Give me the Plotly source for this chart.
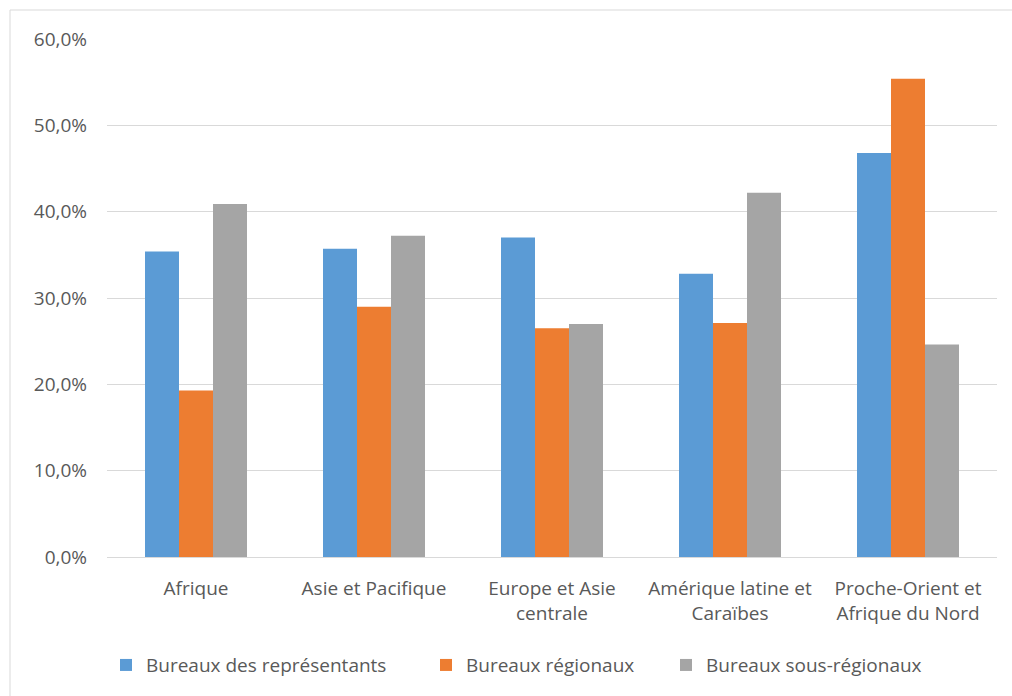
import plotly.graph_objects as go

categories = [
    "Afrique",
    "Asie et Pacifique",
    "Europe et Asie<br>centrale",
    "Amérique latine et<br>Caraïbes",
    "Proche-Orient et<br>Afrique du Nord",
]
series_names = ["Bureaux des représentants", "Bureaux régionaux", "Bureaux sous-régionaux"]
representants = [35.4, 35.7, 37.0, 32.8, 46.8]
regionaux = [19.3, 29.0, 26.5, 27.1, 55.4]
sous_regionaux = [40.9, 37.2, 27.0, 42.2, 24.6]
colors = ["#5B9BD5", "#ED7D31", "#A5A5A5"]
y_ticks = [0, 10, 20, 30, 40, 50, 60]
y_tick_text = [f"{v:.1f}".replace(".", ",") + "%" for v in y_ticks]

W, H = 1012, 696
L, R, T, B = 107, 15, 39, 139
pw, ph = W - L - R, H - T - B

font_family = "Open Sans, Noto Sans, sans-serif"
text_color = "#595959"
fs = 19

# each series gets its own legend box so entries can be spaced freely
legend_ids = ["legend", "legend2", "legend3"]
legend_left_px = [106, 426, 666]

fig = go.Figure()
for name, vals, col, lid in zip(series_names, [representants, regionaux, sous_regionaux], colors, legend_ids):
    fig.add_trace(go.Bar(
        x=categories, y=vals, name=name, legend=lid,
        marker=dict(color=col, line=dict(width=0)),
    ))

# outer chart frame (partially off-canvas on the right and bottom)
fig.add_shape(
    type="rect", xref="paper", yref="paper",
    x0=(10 - L) / pw, x1=(W + 5 - L) / pw,
    y0=(H - B - (H + 5)) / ph, y1=(H - B - 10) / ph,
    line=dict(color="#D9D9D9", width=1), fillcolor="rgba(0,0,0,0)", layer="below",
)

legend_common = dict(
    orientation="h", xanchor="left", y=-0.172, yanchor="top",
    font=dict(family=font_family, size=fs, color=text_color),
    itemwidth=30, bgcolor="rgba(0,0,0,0)",
)
legend_layout = {
    lid: dict(legend_common, x=(px - L) / pw)
    for lid, px in zip(legend_ids, legend_left_px)
}

fig.update_layout(
    width=W, height=H,
    margin=dict(l=L, r=R, t=T, b=B, autoexpand=False),
    paper_bgcolor="white", plot_bgcolor="white",
    barmode="group", bargap=0.427, bargroupgap=0,
    font=dict(family=font_family, size=fs, color=text_color),
    showlegend=True,
    **legend_layout,
    yaxis=dict(
        range=[0, 60], tickvals=y_ticks, ticktext=y_tick_text,
        showgrid=True, gridcolor="#D9D9D9", gridwidth=1,
        zeroline=False, showline=False, ticks="",
        ticklabelstandoff=19,
        tickfont=dict(family=font_family, size=fs, color=text_color),
    ),
    xaxis=dict(
        showline=True, linecolor="#D9D9D9", linewidth=1, ticks="",
        tickfont=dict(family=font_family, size=fs, color=text_color),
        ticklabelstandoff=14,
    ),
)

fig.write_html("out.html")
